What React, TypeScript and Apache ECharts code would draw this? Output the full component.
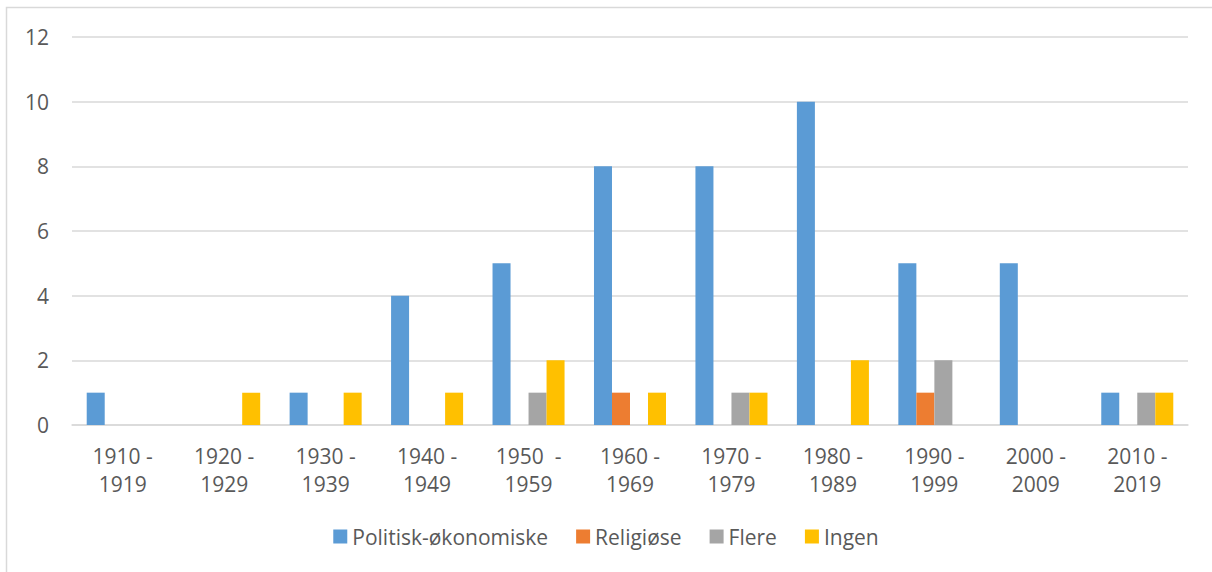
import React, { useEffect, useRef } from "react";
import * as echarts from "echarts";

const categories = [
  "1910 -\n1919", "1920 -\n1929", "1930 -\n1939", "1940 -\n1949", "1950  -\n1959",
  "1960 -\n1969", "1970 -\n1979", "1980 -\n1989", "1990 -\n1999", "2000 -\n2009", "2010 -\n2019",
];
const politisk = [1, 0, 1, 4, 5, 8, 8, 10, 5, 5, 1];
const religiose = [0, 0, 0, 0, 0, 1, 0, 0, 1, 0, 0];
const flere = [0, 0, 0, 0, 1, 0, 1, 0, 2, 0, 1];
const ingen = [0, 1, 1, 1, 2, 1, 1, 2, 0, 0, 1];
const seriesNames = ["Politisk-økonomiske", "Religiøse", "Flere", "Ingen"];
const colors = ["#5b9bd5", "#ed7d31", "#a5a5a5", "#ffc000"];

const FONT = "'Open Sans', 'Noto Sans', sans-serif";

export default function App() {
  const ref = useRef<HTMLDivElement>(null);
  useEffect(() => {
    if (!ref.current) return;
    const chart = echarts.init(ref.current, undefined, { renderer: "svg" });
    const data = [politisk, religiose, flere, ingen];
    chart.setOption({
      animation: false,
      backgroundColor: "#ffffff",
      color: colors,
      textStyle: { fontFamily: FONT },
      graphic: [
        {
          type: "rect",
          shape: { x: 6.5, y: 7.5, width: 1220, height: 580 },
          style: { fill: "none", stroke: "#d9d9d9", lineWidth: 1.5 },
          silent: true,
        },
      ],
      grid: { left: 72, right: 24, top: 37, bottom: 147, containLabel: false },
      legend: {
        bottom: 20,
        left: "center",
        itemWidth: 14,
        itemHeight: 14,
        itemGap: 28,
        icon: "rect",
        textStyle: { color: "#595959", fontSize: 21, fontFamily: FONT },
        data: seriesNames,
      },
      xAxis: {
        type: "category",
        data: categories,
        axisLine: { show: true, lineStyle: { color: "#d9d9d9", width: 1.5 } },
        axisTick: { show: false },
        axisLabel: { color: "#595959", fontSize: 21, lineHeight: 28, margin: 17, fontFamily: FONT },
      },
      yAxis: {
        type: "value",
        min: 0,
        max: 12,
        interval: 2,
        axisLine: { show: false },
        axisTick: { show: false },
        splitLine: { lineStyle: { color: "#d9d9d9", width: 1.5 } },
        axisLabel: { color: "#595959", fontSize: 21, margin: 23, fontFamily: FONT },
      },
      series: seriesNames.map((name, i) => ({
        name,
        type: "bar",
        data: data[i],
        barGap: "0%",
        barCategoryGap: "29%",
        itemStyle: { color: colors[i] },
      })),
    });
    return () => chart.dispose();
  }, []);
  return (
    <div
      ref={ref}
      style={{ position: "fixed", left: 0, top: 0, width: 1212, height: 572 }}
    />
  );
}
